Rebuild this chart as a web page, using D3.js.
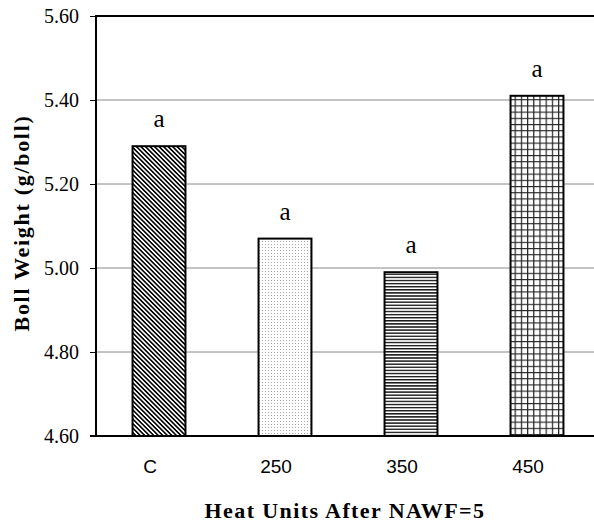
<!DOCTYPE html>
<html><head><meta charset="utf-8">
<script src="https://cdn.jsdelivr.net/npm/d3@7"></script>
<style>body{margin:0;background:#fff}svg{display:block}</style>
</head><body>
<script>
const categories = ["C", "250", "350", "450"];
const values = [5.29, 5.07, 4.99, 5.41];
const letters = ["a", "a", "a", "a"];
const yTicks = [4.60, 4.80, 5.00, 5.20, 5.40, 5.60];
const patterns = ["diag", "dots", "horiz", "grid"];

const W = 594, H = 523;
const m = {left: 96, top: 16, right: -6, bottom: 87};
const svg = d3.select("body").append("svg").attr("width", W).attr("height", H);
const defs = svg.append("defs");
const serif = "Liberation Serif, Times New Roman, serif";

// patterns
const pd = defs.append("pattern").attr("id","diag").attr("patternUnits","userSpaceOnUse")
  .attr("width",8).attr("height",3.2).attr("patternTransform","rotate(45)");
pd.append("rect").attr("width",8).attr("height",3.2).attr("fill","#fff");
pd.append("line").attr("x1",0).attr("x2",8).attr("y1",0.8).attr("y2",0.8).attr("stroke","#000").attr("stroke-width",1.6);

const pdot = defs.append("pattern").attr("id","dots").attr("patternUnits","userSpaceOnUse")
  .attr("width",3).attr("height",3);
pdot.append("rect").attr("width",3).attr("height",3).attr("fill","#fff");
pdot.append("rect").attr("x",1).attr("y",1).attr("width",1).attr("height",1).attr("fill","#aaa");

const ph = defs.append("pattern").attr("id","horiz").attr("patternUnits","userSpaceOnUse")
  .attr("width",6).attr("height",3.1);
ph.append("rect").attr("width",6).attr("height",3.1).attr("fill","#fff");
ph.append("line").attr("x1",0).attr("x2",6).attr("y1",1.5).attr("y2",1.5).attr("stroke","#000").attr("stroke-width",1.3);

const pg = defs.append("pattern").attr("id","grid").attr("patternUnits","userSpaceOnUse")
  .attr("width",6.2).attr("height",6.2);
pg.append("rect").attr("width",6.2).attr("height",6.2).attr("fill","#fff");
pg.append("path").attr("d","M0,0.6H6.2M0.6,0V6.2").attr("stroke","#222").attr("stroke-width",1.2).attr("fill","none");

const x = d3.scaleBand().domain(categories).range([m.left, W - m.right])
  .paddingInner(0.58).paddingOuter(0.29);
const y = d3.scaleLinear().domain([4.6, 5.6]).range([H - m.bottom, m.top]);

// gridlines
svg.append("g").selectAll("line").data(yTicks.slice(1, -1)).join("line")
  .attr("x1", m.left).attr("x2", W).attr("y1", d => y(d)).attr("y2", d => y(d))
  .attr("stroke", "#888").attr("stroke-width", 1);

// top border
svg.append("line").attr("x1", m.left).attr("x2", W).attr("y1", y(5.6)).attr("y2", y(5.6))
  .attr("stroke", "#000").attr("stroke-width", 2);

// bars
svg.append("g").selectAll("rect").data(categories).join("rect")
  .attr("x", d => x(d)).attr("width", x.bandwidth())
  .attr("y", (d, i) => y(values[i])).attr("height", (d, i) => y(4.6) - y(values[i]))
  .attr("fill", (d, i) => `url(#${patterns[i]})`)
  .attr("stroke", "#000").attr("stroke-width", 2);

// letters
svg.append("g").selectAll("text").data(categories).join("text")
  .attr("x", d => x(d) + x.bandwidth() / 2).attr("y", (d, i) => y(values[i]) - 19)
  .attr("text-anchor", "middle").attr("font-family", serif)
  .attr("font-size", 25).text((d, i) => letters[i]);

// y axis
const ya = svg.append("g").attr("transform", `translate(${m.left},0)`)
  .call(d3.axisLeft(y).tickValues(yTicks).tickFormat(d3.format(".2f")).tickSize(6).tickPadding(11));
ya.select(".domain").remove();
ya.selectAll(".tick line").attr("stroke", "#000");
ya.selectAll(".tick text").attr("font-family", serif)
  .attr("font-size", 20).attr("fill", "#000");
svg.append("line").attr("x1", m.left).attr("x2", m.left).attr("y1", y(5.6) - 1).attr("y2", y(4.6) + 1)
  .attr("stroke", "#000").attr("stroke-width", 2);

// x axis
const xa = svg.append("g").attr("transform", `translate(0,${y(4.6)})`)
  .call(d3.axisBottom(x).tickSize(0).tickPadding(24));
xa.select(".domain").remove();
xa.selectAll(".tick text").attr("font-family", "Liberation Sans, Arial, sans-serif")
  .attr("font-size", 19).attr("fill", "#000").attr("dx", -9);
svg.append("line").attr("x1", m.left - 6).attr("x2", W).attr("y1", y(4.6)).attr("y2", y(4.6))
  .attr("stroke", "#000").attr("stroke-width", 2);

// axis titles
svg.append("text").attr("x", 345).attr("y", 518).attr("text-anchor", "middle")
  .attr("font-family", serif).attr("font-weight", "bold")
  .attr("font-size", 22).attr("letter-spacing", 1.4).text("Heat Units After NAWF=5");
svg.append("text").attr("transform", `translate(29,223) rotate(-90)`).attr("text-anchor", "middle")
  .attr("font-family", serif).attr("font-weight", "bold")
  .attr("font-size", 22).attr("letter-spacing", 1.7).text("Boll Weight (g/boll)");
</script>
</body></html>
